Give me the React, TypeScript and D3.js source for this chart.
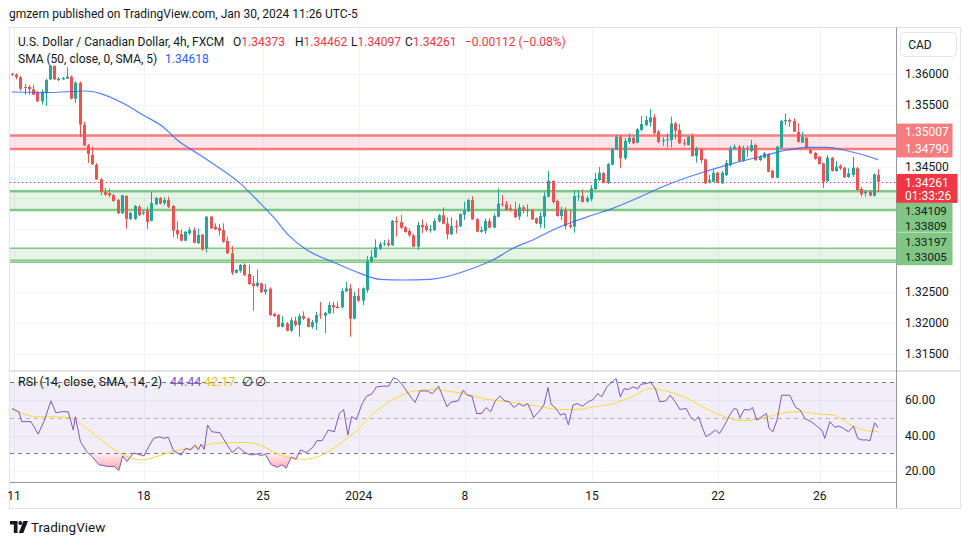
import React from "react";
import * as d3 from "d3";

// ---------- DATA ----------
// 4h USD/CAD candles [open, high, low, close]
const ohlc: [number, number, number, number][] = [
  [1.35992,1.36013,1.3596,1.35976],[1.35981,1.36003,1.35907,1.35939],[1.35939,1.3596,1.35724,1.35756],[1.35772,1.35832,1.3566,1.35783],
  [1.35788,1.3581,1.3566,1.35746],[1.35746,1.3582,1.35655,1.3566],[1.35703,1.35719,1.35543,1.35554],[1.35554,1.35746,1.35499,1.35703],
  [1.35682,1.35917,1.35478,1.35896],[1.35907,1.36136,1.35896,1.3612],[1.3612,1.36128,1.35896,1.35907],[1.35896,1.35944,1.3588,1.35917],
  [1.35907,1.35944,1.35896,1.35928],[1.35917,1.36099,1.35912,1.35949],[1.35949,1.35968,1.35583,1.35596],[1.35596,1.35872,1.35527,1.35852],
  [1.35852,1.35872,1.34981,1.35179],[1.35179,1.35222,1.34837,1.34848],[1.34848,1.34869,1.34564,1.34708],[1.34692,1.34826,1.34532,1.34548],
  [1.34537,1.34564,1.34291,1.34303],[1.34303,1.34323,1.34051,1.34099],[1.34099,1.34163,1.34035,1.34056],[1.34078,1.34152,1.34014,1.34046],
  [1.34046,1.34067,1.33942,1.33955],[1.3397,1.33986,1.33746,1.33757],[1.33757,1.34051,1.33746,1.34046],[1.34035,1.34046,1.3351,1.3367],
  [1.33666,1.33778,1.3365,1.33762],[1.33666,1.3389,1.3365,1.33874],[1.33863,1.3389,1.33714,1.33726],[1.33757,1.3381,1.3373,1.33778],
  [1.3381,1.33858,1.33505,1.33617],[1.33638,1.34099,1.33626,1.33922],[1.33901,1.34019,1.3389,1.34003],[1.34003,1.34019,1.33901,1.33912],
  [1.33922,1.34014,1.3389,1.3397],[1.3397,1.34024,1.33842,1.33863],[1.33874,1.3389,1.33372,1.33478],[1.33489,1.33628,1.3335,1.3342],
  [1.33425,1.335,1.33305,1.33318],[1.33318,1.33473,1.33305,1.33462],[1.33436,1.33532,1.33409,1.33489],[1.33489,1.33532,1.33273,1.33285],
  [1.33276,1.3351,1.33264,1.33409],[1.33409,1.33425,1.33157,1.33179],[1.33195,1.33714,1.33125,1.33703],[1.33703,1.33714,1.33505,1.33516],
  [1.33543,1.33596,1.33489,1.335],[1.33521,1.33585,1.33404,1.33478],[1.33489,1.33596,1.33285,1.33301],[1.33313,1.33382,1.33104,1.33115],
  [1.33115,1.33232,1.32767,1.32804],[1.32804,1.32863,1.32791,1.32847],[1.32836,1.32944,1.32804,1.32928],[1.32928,1.32955,1.32751,1.32767],
  [1.32783,1.32933,1.32607,1.32623],[1.32634,1.32751,1.32194,1.32591],[1.32591,1.32858,1.3257,1.32644],[1.32634,1.32644,1.32478,1.32494],
  [1.32494,1.32623,1.32451,1.32538],[1.32547,1.3257,1.32109,1.32125],[1.32141,1.32162,1.32098,1.32109],[1.32125,1.32141,1.31928,1.31937],
  [1.31937,1.32109,1.31928,1.32002],[1.31992,1.32013,1.31864,1.31874],[1.31874,1.32088,1.31853,1.3204],[1.32035,1.32098,1.31937,1.31965],
  [1.31965,1.32146,1.31777,1.32109],[1.32109,1.32184,1.32045,1.32066],[1.32072,1.32082,1.31928,1.31937],[1.31937,1.32045,1.31906,1.32013],
  [1.32002,1.32178,1.31885,1.32125],[1.32136,1.32334,1.32061,1.3212],[1.32114,1.32173,1.31832,1.32162],[1.32152,1.32339,1.32141,1.32286],
  [1.32286,1.32339,1.32152,1.32249],[1.32259,1.32339,1.32226,1.32238],[1.32249,1.32554,1.32233,1.3251],[1.32505,1.3266,1.32494,1.32554],
  [1.32554,1.32623,1.31777,1.32066],[1.32066,1.32499,1.32056,1.3243],[1.3243,1.32554,1.32339,1.32355],[1.32355,1.3257,1.32286,1.32554],
  [1.32526,1.33071,1.32483,1.32992],[1.3298,1.33168,1.32971,1.33061],[1.33051,1.3334,1.3304,1.33212],[1.33189,1.33297,1.33168,1.33264],
  [1.3326,1.33329,1.33232,1.33276],[1.33276,1.3334,1.33221,1.33244],[1.33244,1.3365,1.33232,1.33638],[1.33633,1.33703,1.33382,1.33617],
  [1.33617,1.3373,1.33505,1.33526],[1.33532,1.33553,1.33446,1.33457],[1.33473,1.33516,1.33372,1.33404],[1.33404,1.33425,1.33212,1.33221],
  [1.33221,1.33622,1.33168,1.33569],[1.33569,1.3366,1.33436,1.33532],[1.33553,1.33606,1.33462,1.33489],[1.33489,1.33569,1.33446,1.33505],
  [1.33489,1.33676,1.33473,1.33633],[1.33628,1.33746,1.33612,1.33726],[1.33726,1.33853,1.3358,1.3359],[1.33596,1.33692,1.3334,1.3342],
  [1.3342,1.33692,1.33409,1.33553],[1.33553,1.3365,1.33436,1.33543],[1.33553,1.33757,1.33537,1.33746],[1.33735,1.33943,1.3365,1.33799],
  [1.33789,1.33993,1.33778,1.3397],[1.3397,1.34035,1.3365,1.33661],[1.33661,1.33682,1.33452,1.33462],[1.33462,1.33543,1.33446,1.33489],
  [1.33478,1.33676,1.33425,1.33633],[1.33633,1.33677,1.33516,1.33526],[1.33526,1.33757,1.33516,1.33714],[1.33703,1.34158,1.33693,1.33912],
  [1.33912,1.34051,1.33863,1.33896],[1.33901,1.33955,1.33799,1.3381],[1.33837,1.33901,1.33783,1.3381],[1.33821,1.33943,1.33682,1.33693],
  [1.33703,1.33912,1.3365,1.33853],[1.33853,1.3389,1.33757,1.33799],[1.33799,1.33901,1.33703,1.3381],[1.3381,1.33826,1.3365,1.33661],
  [1.33677,1.3369,1.33585,1.33596],[1.33585,1.33783,1.33516,1.33714],[1.33703,1.34094,1.33516,1.34035],[1.34024,1.34436,1.34014,1.3428],
  [1.34275,1.34291,1.33912,1.33938],[1.33955,1.33977,1.33703,1.33714],[1.33714,1.33863,1.3365,1.3381],[1.3381,1.33853,1.335,1.33553],
  [1.33569,1.3381,1.33516,1.33543],[1.33543,1.34131,1.33446,1.34035],[1.34024,1.34131,1.33955,1.3404],[1.34035,1.34142,1.33933,1.33938],
  [1.33949,1.34035,1.33927,1.34003],[1.33986,1.34211,1.33949,1.34158],[1.34147,1.34403,1.34131,1.34307],[1.34291,1.345,1.34275,1.34408],
  [1.34403,1.3442,1.34235,1.34248],[1.34248,1.34564,1.34227,1.34548],[1.34537,1.348,1.34525,1.34784],[1.34779,1.35011,1.34773,1.34981],
  [1.34981,1.35011,1.34479,1.3464],[1.3464,1.34965,1.34612,1.34919],[1.34903,1.3504,1.34869,1.3497],[1.3497,1.34986,1.34869,1.3488],
  [1.3489,1.35125,1.3488,1.35104],[1.35094,1.35317,1.35077,1.35189],[1.35173,1.35317,1.35157,1.35254],[1.35217,1.35426,1.35146,1.35297],
  [1.35297,1.3535,1.35029,1.3504],[1.35066,1.35094,1.3488,1.34903],[1.34914,1.34981,1.34837,1.34933],[1.34933,1.3504,1.34816,1.34944],
  [1.34933,1.35307,1.34816,1.352],[1.352,1.35227,1.34944,1.35082],[1.35094,1.35189,1.34869,1.3488],[1.3489,1.34944,1.34837,1.34874],
  [1.34853,1.34997,1.34842,1.34986],[1.34997,1.3504,1.34665,1.34676],[1.34676,1.34826,1.34569,1.348],[1.34784,1.348,1.34559,1.34612],
  [1.34623,1.34633,1.34227,1.34238],[1.34264,1.34372,1.34238,1.34291],[1.34264,1.34452,1.34254,1.34408],[1.34408,1.3442,1.34238,1.34248],
  [1.34238,1.34436,1.34227,1.34408],[1.34372,1.34612,1.34356,1.34564],[1.34532,1.34842,1.34511,1.348],[1.348,1.34864,1.34773,1.34826],
  [1.34826,1.34853,1.34585,1.34596],[1.34596,1.34842,1.34585,1.34784],[1.348,1.34842,1.34665,1.34784],[1.34756,1.34938,1.3474,1.34853],
  [1.34853,1.3488,1.34596,1.34612],[1.34612,1.34692,1.34596,1.34665],[1.34649,1.3474,1.34636,1.34719],[1.34708,1.34719,1.34415,1.34424],
  [1.34436,1.34452,1.34318,1.34327],[1.34327,1.34837,1.34318,1.34826],[1.3481,1.35259,1.348,1.35238],[1.35233,1.35361,1.35173,1.35254],
  [1.35254,1.35281,1.35146,1.35227],[1.35238,1.35281,1.35057,1.35066],[1.35066,1.352,1.34892,1.34903],[1.34892,1.35066,1.34882,1.34986],
  [1.3497,1.34981,1.348,1.3481],[1.34773,1.34805,1.34708,1.34719],[1.34729,1.3474,1.34617,1.34628],[1.34665,1.34676,1.34537,1.34548],
  [1.34559,1.34569,1.34158,1.34264],[1.34275,1.34692,1.34259,1.34649],[1.34649,1.3466,1.34424,1.34436],[1.34436,1.34596,1.34424,1.34505],
  [1.34516,1.34543,1.34452,1.34479],[1.34489,1.34505,1.34327,1.34334],[1.3434,1.34479,1.34327,1.34399],[1.34372,1.34665,1.3434,1.34489],
  [1.34479,1.345,1.3412,1.34131],[1.34147,1.34183,1.34024,1.34062],[1.34078,1.34131,1.34024,1.34104],[1.34104,1.34123,1.3403,1.3404],
  [1.3404,1.34398,1.34024,1.34383],[1.34373,1.34462,1.34097,1.34261],
];

// SMA(50): [candle index, value]
const sma50: [number, number][] = [
  [0,1.35703],[9,1.35695],[17.3,1.35719],[20.8,1.35682],[26.3,1.35522],[31,1.35334],[35.7,1.35146],[39.1,1.34933],
  [44.5,1.34692],[49.2,1.34479],[54,1.34238],[58,1.3397],[61.8,1.33703],[65.8,1.33382],[69.8,1.33168],[74.8,1.33008],
  [77.6,1.32928],[82.4,1.32794],[87.1,1.32698],[92.5,1.32687],[98.9,1.32698],[104.4,1.32767],[109.1,1.32875],[113.8,1.33008],
  [118.6,1.33196],[123.3,1.33329],[128,1.33489],[132.8,1.33622],[137.5,1.3373],[142.2,1.33837],[147,1.3397],[155,1.34211],
  [162.8,1.34399],[170.7,1.34559],[178.7,1.34692],[183.4,1.34773],[188.2,1.34816],[192.9,1.34816],[197.6,1.34761],[202.4,1.34676],
  [205,1.34618],
];

// RSI(14): [candle index, value]
const rsi: [number, number][] = [
  [0,55.2],[1.6,53.4],[2.3,47.8],[4.5,47.8],[6.2,40.8],[7.7,48.7],[9.2,59.5],[10.4,52.8],[11.8,53.4],[13.3,53.4],[14.5,43.1],[15,50.6],
  [16.2,36.5],[17.7,30.9],[19.1,27.8],[20.6,23.5],[22.8,22.5],[24.3,22.5],[25.3,20.3],[26.2,28.5],[27.2,25.3],[28.7,30],[29.7,29.6],
  [31.2,28.5],[32.3,33.4],[33.5,38.4],[35,39.3],[36,38.4],[37,39],[38.2,31.5],[40,29],[41.1,32.8],[42.3,31.9],[43.3,34.7],[44.1,31.9],
  [44.8,35.2],[45.5,32.2],[46.3,45.9],[47.3,42.1],[49.2,41.6],[50.7,35.6],[52.1,30.4],[53.6,33.4],[55.1,30.4],[56.5,29],[58,29.6],
  [59,28.5],[59.9,29.6],[61.4,23.5],[62.8,22.1],[63.9,23.5],[64.9,21.6],[66.1,27.8],[67.2,26.6],[68.3,31.9],[69.7,30.4],[71.2,33.4],
  [72.2,37.1],[73.4,37.1],[74.9,43.1],[76.3,42.1],[77.5,52.4],[78.5,54.7],[79.5,40.3],[80.4,50.6],[81.5,49.1],[82.9,58],[83.9,62.1],
  [85.1,63.3],[86.3,67.4],[87.8,67.8],[89.2,67.8],[90.3,72.6],[91.3,71.5],[92.5,68.3],[93.9,63.3],[95.4,58.6],[96.6,65.1],[98.3,65.1],
  [99.5,63.6],[101,67.8],[102,61.8],[103,56.2],[103.9,58.8],[105.6,59.5],[106.8,65.5],[107.8,62.7],[108.9,62.1],[110,52.4],[111.2,52.4],
  [112.2,55.8],[113.3,53.4],[114.4,59.5],[115.6,62.3],[116.6,59.5],[117.7,59],[118.8,55.8],[120,58],[121,56.5],[122.1,58],[123.5,50.2],
  [124.7,53.4],[125.9,57.1],[126.9,67],[127.6,57.7],[128.8,55.2],[129.8,51.5],[130.9,52.4],[131.7,45.9],[132.8,57.1],[133.8,58],
  [135,56.5],[136.4,59],[137.6,60.3],[138.6,63.6],[139.6,61.8],[140.8,67.4],[142,70.2],[143,72.1],[144,61.8],[144.9,66.4],[145.9,65.9],
  [147,67.4],[148.2,66.4],[148.9,68.9],[150.4,69.3],[151.1,70.2],[152.3,66.4],[153.3,59],[154.8,59.5],[155.8,62.7],[157,59],[158.1,54.7],
  [159.6,55.2],[160.6,50.6],[161.6,48.3],[162.5,50.6],[163.5,44],[164.3,39.3],[165.5,41.2],[166.5,43.1],[167.5,41.2],[168.7,45.9],
  [169.9,51.5],[170.9,55.2],[171.6,54.7],[172.3,50.2],[173.4,54.7],[174.5,54.3],[175.3,55.8],[176.3,48.7],[177.5,50.6],[178.6,52.4],
  [179.2,44],[180.1,42.1],[181.1,48.7],[182.2,62.7],[184.1,62.7],[185.5,55.8],[186.6,54.3],[187.7,49.6],[189.2,47.8],[190.7,45],
  [191.8,42.7],[192.4,38.4],[193.6,47.8],[194.8,44.6],[195.8,45.3],[196.8,44],[198,42.1],[199.2,45.3],[200.2,38.4],[201.2,37.5],
  [202.4,37.5],[203.1,37.1],[204.2,47.2],[205,44.44],
];

// SMA(14) of RSI: [candle index, value]
const rsiSma: [number, number][] = [
  [0,54.7],[6,50.6],[9.6,50.6],[13.3,50.2],[16.2,46.8],[20.6,38.4],[25,30.9],[28.2,27.2],[31.2,26.3],[33.8,27.8],[36.7,30],[39.7,31.9],
  [44.1,33.4],[47.7,35.6],[51.4,36],[55.1,36],[58.7,34.7],[61.7,30.9],[65.3,27.8],[69,26.6],[71.9,27.8],[75.6,31.9],[79.3,38.4],
  [82.2,44],[85.1,51.5],[88.1,57.1],[91.7,62.1],[95.4,65.1],[99.8,65.9],[104.2,64.6],[107.8,63.3],[111.5,60.8],[115.9,59.5],
  [120.3,58],[124.7,56.5],[129.1,54.7],[133.5,54.7],[137.9,56.2],[142.3,58],[146.7,61.8],[151.1,66.4],[155.5,64.6],[159.9,60.8],
  [164.3,55.2],[168.7,50.6],[173.1,48.3],[177.5,49.6],[181.9,52.4],[186.3,53.4],[190.7,52.1],[194.4,51.5],[198,46.8],[201.7,43.1],
  [205,42.17],
];

const resistanceZone = [1.35007, 1.3479];
const supportZone1 = [1.34109, 1.33809];
const supportZone2 = [1.33197, 1.33005, 1.3297];
const lastClose = 1.34261;
const countdown = "01:33:26";
const smaLast = "1.34618";
const rsiLast = "44.44";
const rsiSmaLast = "42.17";

const priceGrid = [1.315, 1.32, 1.325, 1.33, 1.335, 1.34, 1.345, 1.35, 1.355, 1.36];
const priceLabels = [1.315, 1.32, 1.325, 1.345, 1.355, 1.36];
const rsiGrid = [20, 40, 60];
const rsiLevels = [70, 50, 30];
const xTickLabels = ["11", "18", "25", "2024", "8", "15", "22", "26"];
const xTickIdx = [0.5, 31.2, 59.4, 82.1, 107.2, 137.3, 167.1, 191.2];

const UP = "#26a69a";
const DOWN = "#ef5350";
const FONT = "Roboto, 'Liberation Sans', Arial, sans-serif";
const TXT = "#131722";

export default function App() {
  const xS = d3.scaleLinear().domain([0, ohlc.length - 1]).range([12, 878]);
  const yM = d3.scaleLinear().domain([1.315, 1.36]).range([354, 73.5]);
  const yR = d3.scaleLinear().domain([20, 60]).range([471, 400]);

  const smaPath = d3.line<[number, number]>().x(d => xS(d[0])).y(d => yM(d[1])).curve(d3.curveMonotoneX)(sma50) || "";
  const rsiPath = d3.line<[number, number]>().x(d => xS(d[0])).y(d => yR(d[1]))(rsi) || "";
  const rsiSmaPath = d3.line<[number, number]>().x(d => xS(d[0])).y(d => yR(d[1])).curve(d3.curveMonotoneX)(rsiSma) || "";
  const oversoldPath = d3.area<[number, number]>().x(d => xS(d[0])).y0(yR(30)).y1(d => yR(Math.min(d[1], 30)))(rsi) || "";

  const L = 10, R = 896.5;
  const mainTop = 28, mainBot = 370.5, rsiTop = 372, rsiBot = 482.5;

  const yc = yM(lastClose);
  const pinkLow = yM(resistanceZone[1]);
  const pinkTop = pinkLow - 25.3;
  const redTop = yc - 8, redBot = yc + 21;
  const g1Top = redBot, g1Bot = g1Top + 29;
  const g2Top = g1Bot, g2Bot = yM(supportZone2[1]) + 5;

  const axisText = (y: number, t: string, fill: string, key: string, size = 12) => (
    <text key={key} x={905} y={y} fill={fill} fontSize={size} fontFamily={FONT} dominantBaseline="central">{t}</text>
  );

  return (
    <svg width={970} height={545} style={{ position: "absolute", left: 0, top: 0, background: "#fff" }}>
      <defs>
        <clipPath id="mainClip"><rect x={L} y={mainTop} width={R - L} height={mainBot - mainTop} /></clipPath>
        <clipPath id="rsiClip"><rect x={L} y={rsiTop} width={R - L} height={rsiBot - rsiTop} /></clipPath>
        <linearGradient id="osGrad" x1="0" y1="0" x2="0" y2="1">
          <stop offset="0" stopColor="#f23645" stopOpacity={0.08} />
          <stop offset="1" stopColor="#f23645" stopOpacity={0.45} />
        </linearGradient>
      </defs>
      <rect width={970} height={545} fill="#fff" />

      {/* header */}
      <text x={9} y={18} fontSize={12} fontFamily={FONT} fill={TXT}>gmzern published on TradingView.com, Jan 30, 2024 11:26 UTC-5</text>

      {/* frame */}
      <rect x={9.5} y={27.5} width={951} height={481} fill="none" stroke="#e0e3eb" />

      {/* grid */}
      <g stroke="#f0f3fa" strokeWidth={1}>
        {priceGrid.map(p => <line key={"pg" + p} x1={L} x2={R} y1={Math.round(yM(p)) + 0.5} y2={Math.round(yM(p)) + 0.5} />)}
        {xTickIdx.map((t, i) => <line key={"vg" + i} x1={Math.round(xS(t)) + 0.5} x2={Math.round(xS(t)) + 0.5} y1={mainTop} y2={mainBot} />)}
        {rsiGrid.map(v => <line key={"rg" + v} x1={L} x2={R} y1={Math.round(yR(v)) + 0.5} y2={Math.round(yR(v)) + 0.5} />)}
        {xTickIdx.map((t, i) => <line key={"vr" + i} x1={Math.round(xS(t)) + 0.5} x2={Math.round(xS(t)) + 0.5} y1={rsiTop} y2={rsiBot} />)}
      </g>

      <g clipPath="url(#mainClip)">
        {/* zones */}
        <rect x={L} y={yM(resistanceZone[0])} width={R - L} height={yM(resistanceZone[1]) - yM(resistanceZone[0])} fill="#f23645" fillOpacity={0.13} />
        {resistanceZone.map(v => <line key={"rz" + v} x1={L} x2={R} y1={yM(v)} y2={yM(v)} stroke="#f77c80" strokeWidth={2.5} />)}
        <rect x={L} y={yM(supportZone1[0])} width={R - L} height={yM(supportZone1[1]) - yM(supportZone1[0])} fill="#4caf50" fillOpacity={0.14} />
        {supportZone1.map(v => <line key={"s1" + v} x1={L} x2={R} y1={yM(v)} y2={yM(v)} stroke="#81c784" strokeWidth={2.5} />)}
        <rect x={L} y={yM(supportZone2[0])} width={R - L} height={yM(supportZone2[2]) - yM(supportZone2[0])} fill="#4caf50" fillOpacity={0.14} />
        {supportZone2.map(v => <line key={"s2" + v} x1={L} x2={R} y1={yM(v)} y2={yM(v)} stroke="#81c784" strokeWidth={1.5} />)}

        {/* last price dotted line */}
        <line x1={L} x2={R} y1={Math.round(yc) + 0.5} y2={Math.round(yc) + 0.5} stroke="#f23645" strokeWidth={1} strokeDasharray="1 3" />

        {/* candles */}
        {ohlc.map((d, i) => {
          const [o, h, l, c] = d;
          const up = c >= o;
          const col = up ? UP : DOWN;
          const cx = Math.round(xS(i));
          const yt = yM(Math.max(o, c)), yb = yM(Math.min(o, c));
          return (
            <g key={"c" + i}>
              <line x1={cx + 0.5} x2={cx + 0.5} y1={yM(h)} y2={yM(l)} stroke={col} strokeWidth={1} />
              <rect x={cx - 1} y={yt} width={3} height={Math.max(1, yb - yt)} fill={col} />
            </g>
          );
        })}

        {/* SMA */}
        <path d={smaPath} fill="none" stroke="#2962ff" strokeWidth={1.2} strokeOpacity={0.8} />
      </g>

      {/* main legend */}
      <text x={18} y={46} fontSize={12} fontFamily={FONT} fill={TXT}>U.S. Dollar / Canadian Dollar, 4h, FXCM</text>
      <text x={233} y={46} fontSize={12} fontFamily={FONT} fill={TXT}>O<tspan fill="#f23645">{ohlc[ohlc.length - 1][0].toFixed(5)}</tspan></text>
      <text x={295} y={46} fontSize={12} fontFamily={FONT} fill={TXT}>H<tspan fill="#f23645">{ohlc[ohlc.length - 1][1].toFixed(5)}</tspan></text>
      <text x={351} y={46} fontSize={12} fontFamily={FONT} fill={TXT}>L<tspan fill="#f23645">{ohlc[ohlc.length - 1][2].toFixed(5)}</tspan></text>
      <text x={405} y={46} fontSize={12} fontFamily={FONT} fill={TXT}>C<tspan fill="#f23645">{ohlc[ohlc.length - 1][3].toFixed(5)}</tspan></text>
      <text x={465} y={46} fontSize={12} fontFamily={FONT} fill="#f23645">−0.00112 (−0.08%)</text>
      <text x={18} y={63} fontSize={12} fontFamily={FONT} fill={TXT}>SMA (50, close, 0, SMA, 5)<tspan x={165} fill="#2962ff">{smaLast}</tspan></text>

      {/* RSI pane */}
      <rect x={L} y={yR(70)} width={R - L} height={yR(30) - yR(70)} fill="#7e57c2" fillOpacity={0.1} />
      {rsiLevels.map(v => (
        <line key={"rl" + v} x1={L} x2={R} y1={Math.round(yR(v)) + 0.5} y2={Math.round(yR(v)) + 0.5}
          stroke="#787b86" strokeOpacity={v === 50 ? 0.5 : 1} strokeDasharray="4 4" />
      ))}
      <g clipPath="url(#rsiClip)">
        <path d={oversoldPath} fill="url(#osGrad)" />
        <path d={rsiSmaPath} fill="none" stroke="#fdd835" strokeWidth={1} />
        <path d={rsiPath} fill="none" stroke="#7e57c2" strokeWidth={1} />
      </g>
      <text x={18} y={386} fontSize={12.5} fontFamily={FONT} fill={TXT}>RSI (14, close, SMA, 14, 2)</text>
      <text x={170} y={386} fontSize={12.5} fontFamily={FONT} fill="#7e57c2">{rsiLast}</text>
      <text x={204} y={386} fontSize={12.5} fontFamily={FONT} fill="#e8c31a">{rsiSmaLast}</text>
      <text x={242} y={386} fontSize={12.5} fontFamily={FONT} fill={TXT}>∅</text>
      <text x={255} y={386} fontSize={12.5} fontFamily={FONT} fill={TXT}>∅</text>

      {/* separators */}
      <line x1={L} x2={960} y1={371} y2={371} stroke="#e0e3eb" strokeWidth={2} />
      <line x1={R} x2={R} y1={27.5} y2={508} stroke="#9598a1" strokeWidth={1} />
      <line x1={L} x2={R} y1={rsiBot} y2={rsiBot} stroke="#9598a1" strokeWidth={1} />

      {/* price axis labels */}
      {priceLabels.map(p => axisText(yM(p), p.toFixed(5), TXT, "pl" + p))}
      {rsiGrid.map(v => axisText(yR(v), v.toFixed(2), TXT, "rl" + v))}

      {/* CAD box */}
      <rect x={900.5} y={32.5} width={56} height={24} rx={4} fill="#fff" stroke="#e0e3eb" />
      <text x={920} y={45} fontSize={12} fontFamily={FONT} fill={TXT} textAnchor="middle" dominantBaseline="central">CAD</text>

      {/* colored price labels */}
      <rect x={R} y={pinkTop} width={56} height={pinkLow + 8.5 - pinkTop} fill="#f77c80" />
      {axisText(pinkLow - 16.6, resistanceZone[0].toFixed(5), "#fff", "pz0")}
      {axisText(pinkLow, resistanceZone[1].toFixed(5), "#fff", "pz1")}

      <rect x={R} y={redTop} width={61} height={redBot - redTop} fill="#f23645" />
      {axisText(yc + 1.5, lastClose.toFixed(5), "#fff", "lc")}
      {axisText(yc + 14.5, countdown, "#fff", "cd")}

      <rect x={R} y={g1Top} width={56} height={g1Bot - g1Top} fill="#81c784" />
      {axisText(g1Top + 8.5, supportZone1[0].toFixed(5), TXT, "g10", 11.5)}
      {axisText(g1Top + 23.5, supportZone1[1].toFixed(5), TXT, "g11", 11.5)}

      <rect x={R} y={g2Top + 0.5} width={56} height={g2Bot - g2Top - 0.5} fill="#81c784" />
      {axisText(g2Top + 10.5, supportZone2[0].toFixed(5), TXT, "g20", 11.5)}
      {axisText(g2Top + 25.5, supportZone2[1].toFixed(5), TXT, "g21", 11.5)}

      {/* time axis */}
      {xTickLabels.map((t, i) => (
        <text key={"xt" + i} x={xS(xTickIdx[i])} y={496} fontSize={12} fontFamily={FONT} fill={TXT}
          textAnchor="middle" dominantBaseline="central">{t}</text>
      ))}

      {/* TradingView logo */}
      <g fill={TXT}>
        <path d="M10 521 H17.5 V533 H13.8 V524.6 H10 Z" />
        <circle cx={20.3} cy={523} r={2} />
        <path d="M23.5 521 H28 L23.3 533 H18.8 Z" />
      </g>
      <text x={31} y={532} fontSize={13.5} fontFamily={FONT} fill={TXT}>TradingView</text>
    </svg>
  );
}
